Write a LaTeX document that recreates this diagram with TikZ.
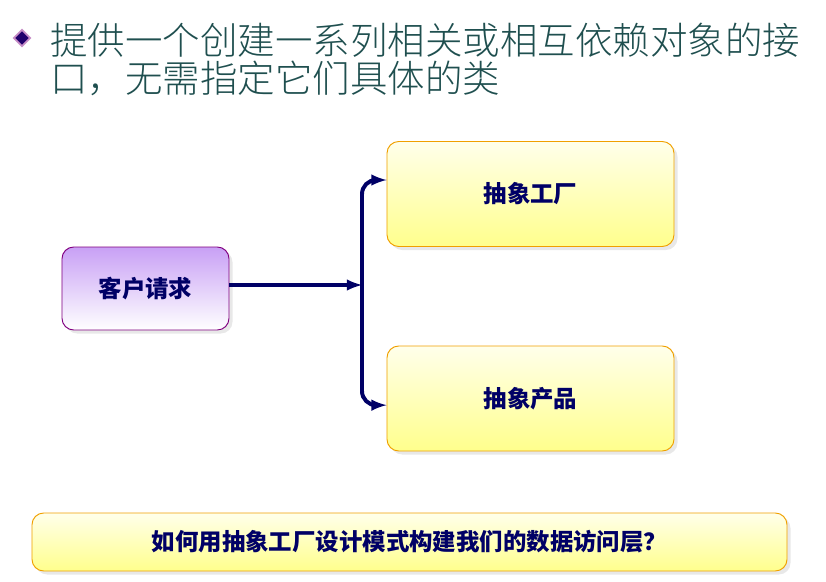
\documentclass[tikz,border=0pt]{standalone}
\usepackage{fontspec}
\setmainfont{Noto Sans CJK SC}
\newfontfamily\cjklight{Noto Sans CJK SC Light}
\usepackage{tikz}
\usetikzlibrary{positioning,shapes,shadows,calc}
\definecolor{navy}{HTML}{000066}
\definecolor{titlegreen}{HTML}{1F4F4F}
\definecolor{violetedge}{HTML}{800080}
\definecolor{amberedge}{HTML}{F0A000}
\definecolor{lavender}{RGB}{200,160,245}

\begin{document}
\begin{tikzpicture}[x=0.03cm, y=-0.03cm]
        \tikzset{
            box/.style={draw, rounded corners=10pt, line width=0.8pt,
                drop shadow={fill=gray!35, shadow xshift=3pt, shadow yshift=-3pt},
                font=\fontsize{20}{24}\selectfont\bfseries, text=navy},
            clientbox/.style={box, draw=violetedge, top color=lavender, bottom color=white,
                minimum width=5.01cm, minimum height=2.49cm},
            partbox/.style={box, draw=amberedge, top color=yellow!8, bottom color=yellow!45,
                minimum width=8.61cm, minimum height=3.15cm},
            conn/.style={draw=navy, line width=3.4pt, -latex},
        }

        \useasboundingbox (0,0) rectangle (826,582);

        % heading
        \node[diamond, draw=violet!45, fill=navy!75!violet, inner sep=3.6pt, line width=1.5pt] (bullet) at (22,38) {};
        \node[anchor=west, text=titlegreen, align=left, inner sep=0pt,
            font=\cjklight\fontsize{32}{32.5}\selectfont] (heading) at (50,59)
            {提供一个创建一系列相关或相互依赖对象的接\\口，无需指定它们具体的类};

        % boxes
        \node[clientbox] (client) at (145.5,288.5) {客户请求};
        \node[partbox] (factory) at (530.5,194) {抽象工厂};
        \node[partbox] (product) at (530.5,398.5) {抽象产品};
        \node[box, draw=amberedge, top color=yellow!8, bottom color=yellow!45,
            minimum width=22.65cm, minimum height=1.74cm] (question) at (409.5,542)
            {如何用抽象工厂设计模式构建我们的数据访问层？};

        % connectors
        \coordinate (split) at (362,285);
        \draw[conn] (client.east |- split) -- (split);
        \draw[conn, rounded corners=12pt] (split) |- ([yshift=0.42cm]factory.west);
        \draw[conn, rounded corners=12pt] (split) |- ([yshift=-0.2cm]product.west);
    \end{tikzpicture}
\end{document}
